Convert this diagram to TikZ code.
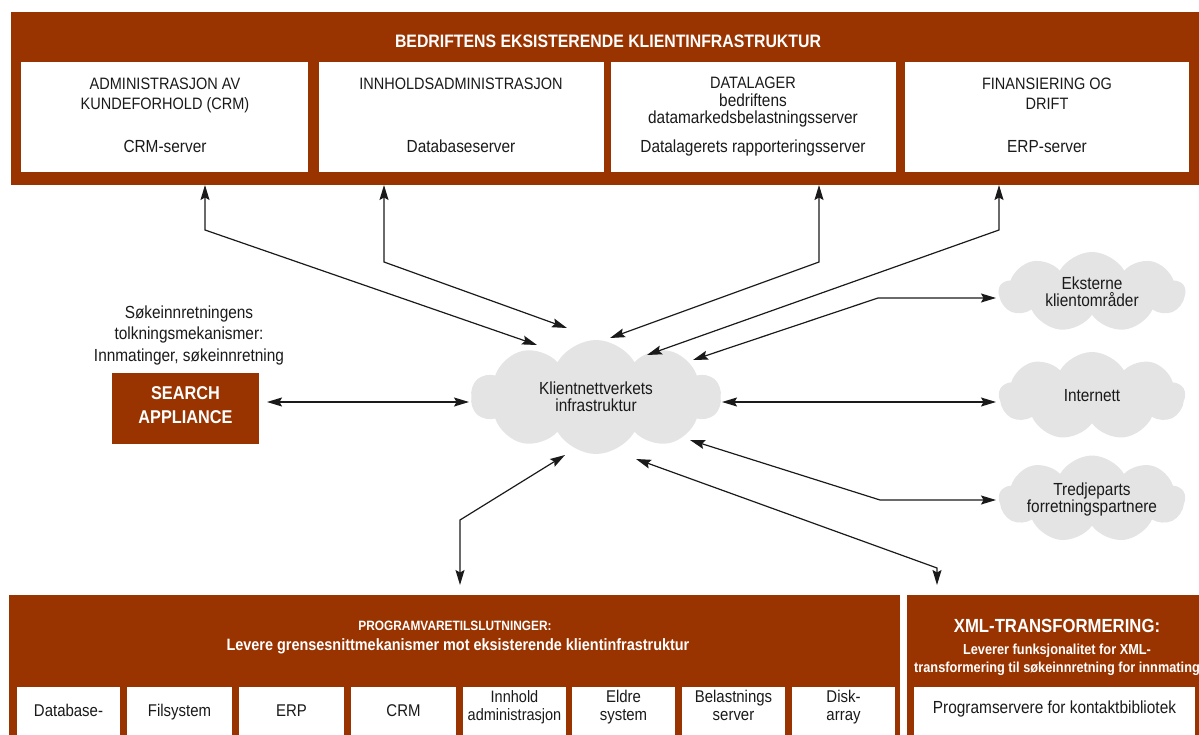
\documentclass[tikz,border=0pt]{standalone}
\usepackage{fontspec}
\setmainfont{Liberation Sans}[FakeStretch=0.88]
\usetikzlibrary{shapes.symbols,arrows.meta}
\definecolor{brick}{RGB}{153,51,0}
\definecolor{mist}{RGB}{228,228,228}
\definecolor{ink}{RGB}{26,26,26}
\begin{document}
\begin{tikzpicture}[x=1pt,y=-1pt,
  panel/.style={fill=brick,draw=none,inner sep=0pt,outer sep=0pt,anchor=north west},
  card/.style={fill=white,draw=none,inner sep=0pt,outer sep=0pt,anchor=north west},
  lbl/.style={inner sep=0pt,anchor=base,text=ink,font=\fontsize{17.5}{20}\selectfont},
  capline/.style={lbl,font=\fontsize{16.5}{20}\selectfont},
  hdr/.style={inner sep=0pt,anchor=base,text=white,font=\fontsize{18}{20}\selectfont\bfseries},
  puff/.style={cloud,cloud puffs=10,cloud puff arc=120,cloud ignores aspect,fill=mist,draw=none,
    inner sep=0pt,align=center,text=ink,font=\fontsize{17.5}{17}\selectfont},
  tip/.style={Stealth[length=15pt,width=9pt,inset=2.5pt]},
  link/.style={{Stealth[length=15pt,width=9pt,inset=2.5pt]}-{Stealth[length=15pt,width=9pt,inset=2.5pt]},
    line width=1.2pt,draw=ink}]
\useasboundingbox (0,0) rectangle (1199,735);

% ---- existing client infrastructure ----
\node[panel,minimum width=1200pt,minimum height=173pt] (topbar) at (11,12) {};
\node[hdr] (ttl) at (608,48) {BEDRIFTENS EKSISTERENDE KLIENTINFRASTRUKTUR};

\node[card,minimum width=287pt,minimum height=110pt] (crm) at (21,62) {};
\node[card,minimum width=285pt,minimum height=110pt] (cms) at (319,62) {};
\node[card,minimum width=285pt,minimum height=110pt] (dw) at (611,62) {};
\node[card,minimum width=284pt,minimum height=110pt] (fin) at (905,62) {};

\node[capline] (crm1) at (165,90) {ADMINISTRASJON AV};
\node[capline] (crm2) at (165,110) {KUNDEFORHOLD (CRM)};
\node[lbl] (crm3) at (165,153) {CRM-server};

\node[capline] (cms1) at (461,90) {INNHOLDSADMINISTRASJON};
\node[lbl] (cms2) at (461,153) {Databaseserver};

\node[capline] (dw1) at (753,89) {DATALAGER};
\node[lbl] (dw2) at (753,107) {bedriftens};
\node[lbl] (dw3) at (753,124) {datamarkedsbelastningsserver};
\node[lbl] (dw4) at (753,153) {Datalagerets rapporteringsserver};

\node[capline] (fin1) at (1047,90) {FINANSIERING OG};
\node[capline] (fin2) at (1047,110) {DRIFT};
\node[lbl] (fin3) at (1047,153) {ERP-server};

% ---- search appliance ----
\node[lbl] (sa1) at (189,318) {Søkeinnretningens};
\node[lbl] (sa2) at (189,339) {tolkningsmekanismer:};
\node[lbl] (sa3) at (189,361) {Innmatinger, søkeinnretning};
\node[panel,minimum width=147pt,minimum height=71pt] (search) at (112,373) {};
\node[hdr,font=\fontsize{18.5}{20}\selectfont\bfseries] (srch1) at (185.5,399) {SEARCH};
\node[hdr,font=\fontsize{18.5}{20}\selectfont\bfseries] (srch2) at (185.5,423) {APPLIANCE};

% ---- networks ----
\node[puff,minimum width=250pt,minimum height=114pt] (core) at (596,397) {Klientnettverkets\\infrastruktur};
\node[puff,cloud puffs=9,minimum width=186pt,minimum height=80pt] (ext) at (1092,292) {Eksterne\\klientområder};
\node[puff,cloud puffs=9,minimum width=186pt,minimum height=88pt] (web) at (1092,396) {Internett};
\node[puff,cloud puffs=9,minimum width=186pt,minimum height=87pt] (thirdp) at (1092,499) {Tredjeparts\\forretningspartnere};

% ---- connectors ----
\coordinate (k1) at (205,230); \coordinate (e1) at (537,345);
\coordinate (k2) at (384,262); \coordinate (e2) at (567,328);
\coordinate (k3) at (819,262); \coordinate (e3) at (610,338);
\coordinate (k4) at (999,230); \coordinate (e4) at (647,355);
\coordinate (k5) at (878,298); \coordinate (e5) at (693,360);
\coordinate (k7) at (880,500); \coordinate (e7) at (690,440);
\coordinate (k8) at (937,568); \coordinate (e8) at (636,459); \coordinate (t8) at (937,585);
\coordinate (k9) at (460,520); \coordinate (e9) at (565,455); \coordinate (t9) at (460,585);
\coordinate (s1) at (267,402); \coordinate (s2) at (469,402);
\coordinate (w1) at (722,402); \coordinate (w2) at (996,402);

\draw[link] (topbar.south -| k1) -- (k1) -- (e1);
\draw[link] (topbar.south -| k2) -- (k2) -- (e2);
\draw[link] (topbar.south -| k3) -- (k3) -- (e3);
\draw[link] (topbar.south -| k4) -- (k4) -- (e4);
\draw[link] (e5) -- (k5) -- (k5 -| w2);
\draw[link] (s1) -- (s2);
\draw[link] (w1) -- (w2);
\draw[link] (e7) -- (k7) -- (k7 -| w2);
\draw[link] (e8) -- (k8) -- (t8);
\draw[link] (e9) -- (k9) -- (t9);

% ---- software connectors ----
\node[panel,minimum width=891pt,minimum height=150pt] (progbar) at (9,595) {};
\node[hdr,font=\fontsize{13.5}{18}\selectfont\bfseries] (pg1) at (455,630) {PROGRAMVARETILSLUTNINGER:};
\node[hdr,font=\fontsize{16.4}{18}\selectfont\bfseries] (pg2) at (458,650) {Levere grensesnittmekanismer mot eksisterende klientinfrastruktur};

\node[card,minimum width=103pt,minimum height=60pt] (c1) at (17,687) {};
\node[card,minimum width=105pt,minimum height=60pt] (c2) at (127,687) {};
\node[card,minimum width=105pt,minimum height=60pt] (c3) at (239,687) {};
\node[card,minimum width=105pt,minimum height=60pt] (c4) at (351,687) {};
\node[card,minimum width=103pt,minimum height=60pt] (c5) at (463,687) {};
\node[card,minimum width=103pt,minimum height=60pt] (c6) at (572,687) {};
\node[card,minimum width=103pt,minimum height=60pt] (c7) at (682,687) {};
\node[card,minimum width=103pt,minimum height=60pt] (c8) at (792,687) {};

\node[lbl,font=\fontsize{17}{20}\selectfont] (c1t) at (c1.north |- 0,716) {Database-};
\node[lbl,font=\fontsize{17}{20}\selectfont] (c2t) at (c2.north |- 0,716) {Filsystem};
\node[lbl,font=\fontsize{17}{20}\selectfont] (c3t) at (c3.north |- 0,716) {ERP};
\node[lbl,font=\fontsize{17}{20}\selectfont] (c4t) at (c4.north |- 0,716) {CRM};
\node[lbl,font=\fontsize{16.5}{20}\selectfont] (c5a) at (c5.north |- 0,702) {Innhold};
\node[lbl,font=\fontsize{16.5}{20}\selectfont] (c5b) at (c5.north |- 0,720) {administrasjon};
\node[lbl,font=\fontsize{17}{20}\selectfont] (c6a) at (c6.north |- 0,702) {Eldre};
\node[lbl,font=\fontsize{17}{20}\selectfont] (c6b) at (c6.north |- 0,720) {system};
\node[lbl,font=\fontsize{17}{20}\selectfont] (c7a) at (c7.north |- 0,702) {Belastnings};
\node[lbl,font=\fontsize{17}{20}\selectfont] (c7b) at (c7.north |- 0,720) {server};
\node[lbl,font=\fontsize{17}{20}\selectfont] (c8a) at (c8.north |- 0,702) {Disk-};
\node[lbl,font=\fontsize{17}{20}\selectfont] (c8b) at (c8.north |- 0,720) {array};

% ---- XML transformation ----
\node[panel,minimum width=300pt,minimum height=150pt] (xmlbar) at (907,595) {};
\node[hdr,font=\fontsize{19}{20}\selectfont\bfseries] (x1) at (1057,632) {XML-TRANSFORMERING:};
\node[hdr,font=\fontsize{14.5}{16}\selectfont\bfseries] (x2) at (1057,654) {Leverer funksjonalitet for XML-};
\node[hdr,font=\fontsize{14.5}{16}\selectfont\bfseries] (x3) at (1057,672) {transformering til søkeinnretning for innmating};
\node[card,minimum width=281pt,minimum height=60pt] (lib) at (914,687) {};
\node[lbl] (libt) at (lib.north |- 0,713) {Programservere for kontaktbibliotek};
\end{tikzpicture}
\end{document}
